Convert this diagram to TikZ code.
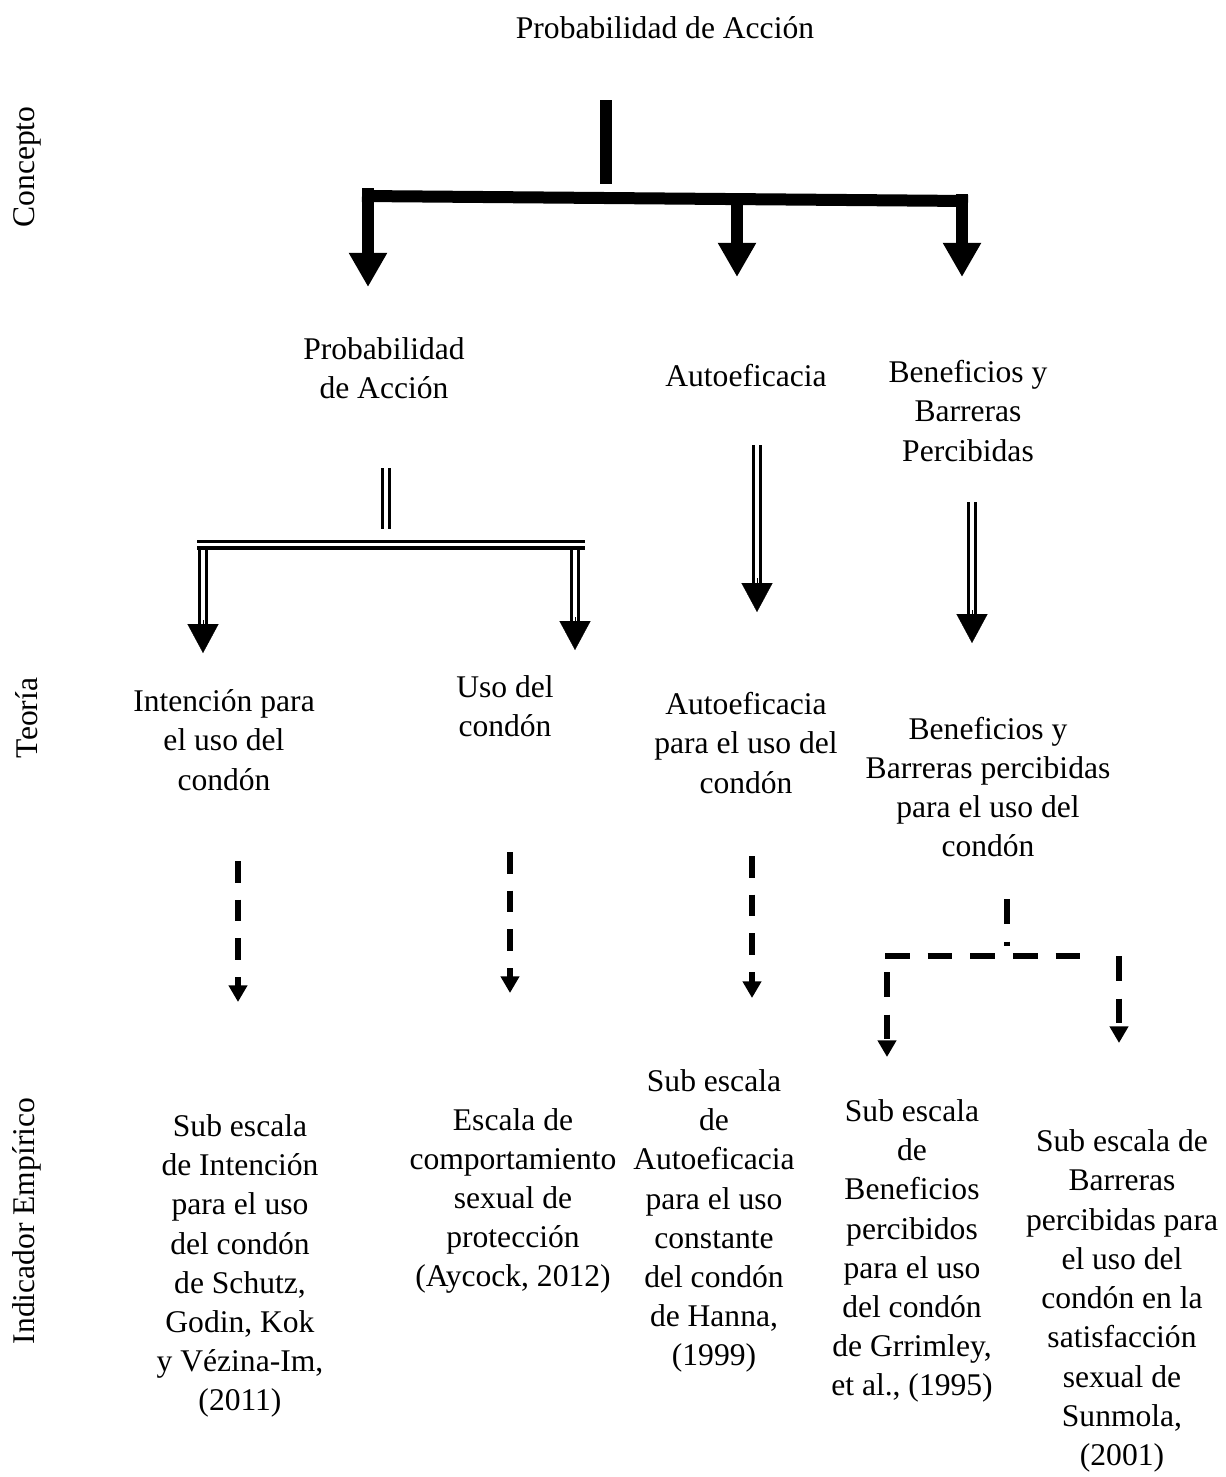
\documentclass[tikz,border=0pt]{standalone}
\usepackage{fontspec}
\setmainfont{Liberation Serif}
\usetikzlibrary{arrows.meta}
\begin{document}
\begin{tikzpicture}[x=0.38pt,y=-0.38pt,
  txt/.style={align=center,inner sep=0pt,font=\fontsize{12pt}{14.9pt}\selectfont},
  side/.style={txt,rotate=90},
  heavy/.style={line width=4.56pt},
  heavyarrow/.style={heavy,-{Triangle[width=13.7pt,length=13pt]}},
  dbl/.style={double,double distance=1.4pt,line width=1.2pt},
  dblhead/.style={line width=0.1pt,-{Triangle[width=11.8pt,length=11pt]}},
  dashA/.style={line width=2.3pt,dash pattern=on 8.2pt off 6.5pt},
  dashB/.style={line width=2.3pt,dash pattern=on 9.4pt off 6.8pt},
  dashtip/.style={-{Triangle[width=6.8pt,length=6.3pt]}},
]
\useasboundingbox (0,0) rectangle (1225,1477);

% level labels
\node[side] (lc) at (27,167) {Concepto};
\node[side] (lt) at (27,718) {Teoría};
\node[side] (li) at (27,1221) {Indicador Empírico};

% concept
\node[txt] (top) at (665,28) {Probabilidad de Acción};

% theory
\node[txt] (pa) at (384,368) {Probabilidad\\de Acción};
\node[txt] (au) at (746,376) {Autoeficacia};
\node[txt] (bb) at (968,411) {Beneficios y\\Barreras\\Percibidas};

\node[txt] (t1) at (224,740) {Intención para\\el uso del\\condón};
\node[txt] (t2) at (505,706) {Uso del\\condón};
\node[txt] (t3) at (746,743) {Autoeficacia\\para el uso del\\condón};
\node[txt] (t4) at (988,787) {Beneficios y\\Barreras percibidas\\para el uso del\\condón};

% empirical indicators
\node[txt] (i1) at (240,1266) {Sub escala\\de Intención\\para el uso\\del condón\\de Schutz,\\Godin, Kok\\y Vézina-Im,\\(2011)};
\node[txt] (i2) at (513,1201) {Escala de\\comportamiento\\sexual de\\protección\\(Aycock, 2012)};
\node[txt] (i3) at (714,1221) {Sub escala\\de\\Autoeficacia\\para el uso\\constante\\del condón\\de Hanna,\\(1999)};
\node[txt] (i4) at (912,1251) {Sub escala\\de\\Beneficios\\percibidos\\para el uso\\del condón\\de Grrimley,\\et al., (1995)};
\node[txt] (i5) at (1122,1301) {Sub escala de\\Barreras\\percibidas para\\el uso del\\condón en la\\satisfacción\\sexual de\\Sunmola,\\(2001)};

% heavy branching arrows
\coordinate (s0) at (606,100);
\coordinate (s1) at (606,184);
\coordinate (bl) at (362,196);
\coordinate (br) at (968,201);
\coordinate (a1s) at (368,188);
\coordinate (a1t) at (368,287);
\coordinate (a2s) at (737,199);
\coordinate (a2t) at (737,277);
\coordinate (a3s) at (962,194);
\coordinate (a3t) at (962,277);
\draw[heavy] (s0) -- (s1);
\draw[heavy] (bl) -- (br);
\draw[heavyarrow] (a1s) -- (a1t);
\draw[heavyarrow] (a2s) -- (a2t);
\draw[heavyarrow] (a3s) -- (a3t);

% double-line arrows
\coordinate (p0) at (386,468);
\coordinate (p1) at (386,529);
\coordinate (hl) at (197,544.5);
\coordinate (hr) at (585,544.5);
\draw[dbl] (p0) -- (p1);
\draw[dbl] (hl) -- (hr);

\coordinate (d1s) at (203,550);
\coordinate (d1b) at (203,627);
\coordinate (d1m) at (203,620);
\coordinate (d1t) at (203,653);
\draw[dbl] (d1s) -- (d1b);
\draw[dblhead] (d1m) -- (d1t);

\coordinate (d2s) at (575,550);
\coordinate (d2b) at (575,624);
\coordinate (d2m) at (575,617);
\coordinate (d2t) at (575,650);
\draw[dbl] (d2s) -- (d2b);
\draw[dblhead] (d2m) -- (d2t);

\coordinate (e0) at (757,445);
\coordinate (e1b) at (757,586);
\coordinate (e1m) at (757,578);
\coordinate (e1t) at (757,612);
\draw[dbl] (e0) -- (e1b);
\draw[dblhead] (e1m) -- (e1t);

\coordinate (f0) at (972,502);
\coordinate (f1b) at (972,617);
\coordinate (f1m) at (972,610);
\coordinate (f1t) at (972,643);
\draw[dbl] (f0) -- (f1b);
\draw[dblhead] (f1m) -- (f1t);

% dashed arrows
\coordinate (g1s) at (238,861);
\coordinate (g1t) at (238,1002);
\coordinate (g2s) at (510,852);
\coordinate (g2t) at (510,993);
\coordinate (g3s) at (752,856);
\coordinate (g3t) at (752,998);
\draw[dashA,dashtip] (g1s) -- (g1t);
\draw[dashA,dashtip] (g2s) -- (g2t);
\draw[dashA,dashtip] (g3s) -- (g3t);

\coordinate (k0) at (1007,899);
\coordinate (k1) at (1007,946);
\coordinate (kl) at (885,956);
\coordinate (kr) at (1080,956);
\coordinate (m1s) at (887,972);
\coordinate (m1t) at (887,1057);
\coordinate (m2s) at (1119,956);
\coordinate (m2t) at (1119,1043);
\draw[dashB] (k0) -- (k1);
\draw[dashB] (kl) -- (kr);
\draw[dashB,dashtip] (m1s) -- (m1t);
\draw[dashB,dashtip] (m2s) -- (m2t);
\end{tikzpicture}
\end{document}
